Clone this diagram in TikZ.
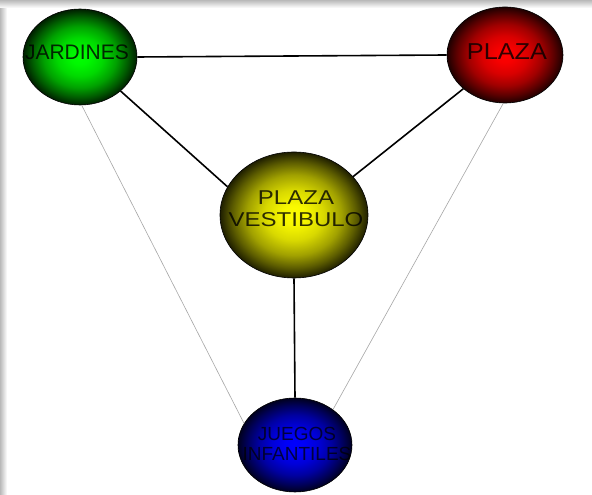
\documentclass[tikz,border=0pt]{standalone}
\usepackage{fontspec}
\setmainfont{Liberation Sans}
\newfontfamily\widefont[FakeStretch=1.2]{Liberation Sans}
\newfontfamily\midfont[FakeStretch=1.1]{Liberation Sans}
\usetikzlibrary{shapes.geometric}
\newcommand\mkball[1]{%
  \pgfdeclareradialshading{ball#1}{\pgfpoint{0bp}{0bp}}{%
    color(0bp)=(#1); color(4bp)=(#1!97!black); color(10bp)=(#1!85!black);
    color(16bp)=(#1!63!black); color(21bp)=(#1!36!black); color(25bp)=(#1!12!black);
    color(28bp)=(black); color(50bp)=(black)}}
\mkball{green}
\mkball{red}
\mkball{yellow}
\mkball{blue}
\tikzset{
  ball/.style={ellipse, draw=black, line width=0.6pt, inner sep=0pt},
  lbl/.style={align=center, text=black, text opacity=0.8, inner sep=0pt, font=\fontsize{21}{21}\selectfont},
  strong/.style={line width=1.6pt, black},
  faint/.style={line width=0.6pt, gray!70}
}
\begin{document}
\begin{tikzpicture}[x=1pt,y=1pt]
\useasboundingbox (0,0) rectangle (592,495);
\fill[white] (0,0) rectangle (592,495);
% frame shadow
\shade[left color=gray!55, right color=white] (0,0) rectangle (7,495);
\shade[top color=gray!55, bottom color=white] (0,487) rectangle (592,495);
% balls
\node[ball, shading=ballgreen, minimum width=114pt, minimum height=96pt] (g) at (80,438) {};
\node[ball, shading=ballred, minimum width=116pt, minimum height=96pt] (r) at (505,440) {};
\node[ball, shading=ballyellow, minimum width=148pt, minimum height=126pt] (y) at (294,280) {};
\node[ball, shading=ballblue, minimum width=114pt, minimum height=94pt] (b) at (295,50) {};
% connectors
\draw[strong] (g.east) -- (r.west);
\draw[strong] (g.-40) -- (y.157);
\draw[strong] (r.-141) -- (y.33);
\draw[strong] (y.south) -- (b.north);
\draw[faint] (g.-88) -- (b.157);
\draw[faint] (r.-92) -- (b.43);
% labels
\node[lbl] (gt) at (77,443) {JARDINES};
\node[lbl, font=\midfont\fontsize{23}{23}\selectfont] (rt) at (507,443) {PLAZA};
\node[lbl, font=\widefont\fontsize{20}{22}\selectfont] (yt) at (296,286) {PLAZA\\VESTIBULO};
\node[lbl, font=\fontsize{19}{20}\selectfont, text opacity=0.72] (bt) at (297,51) {JUEGOS\\INFANTILES};
\end{tikzpicture}
\end{document}
